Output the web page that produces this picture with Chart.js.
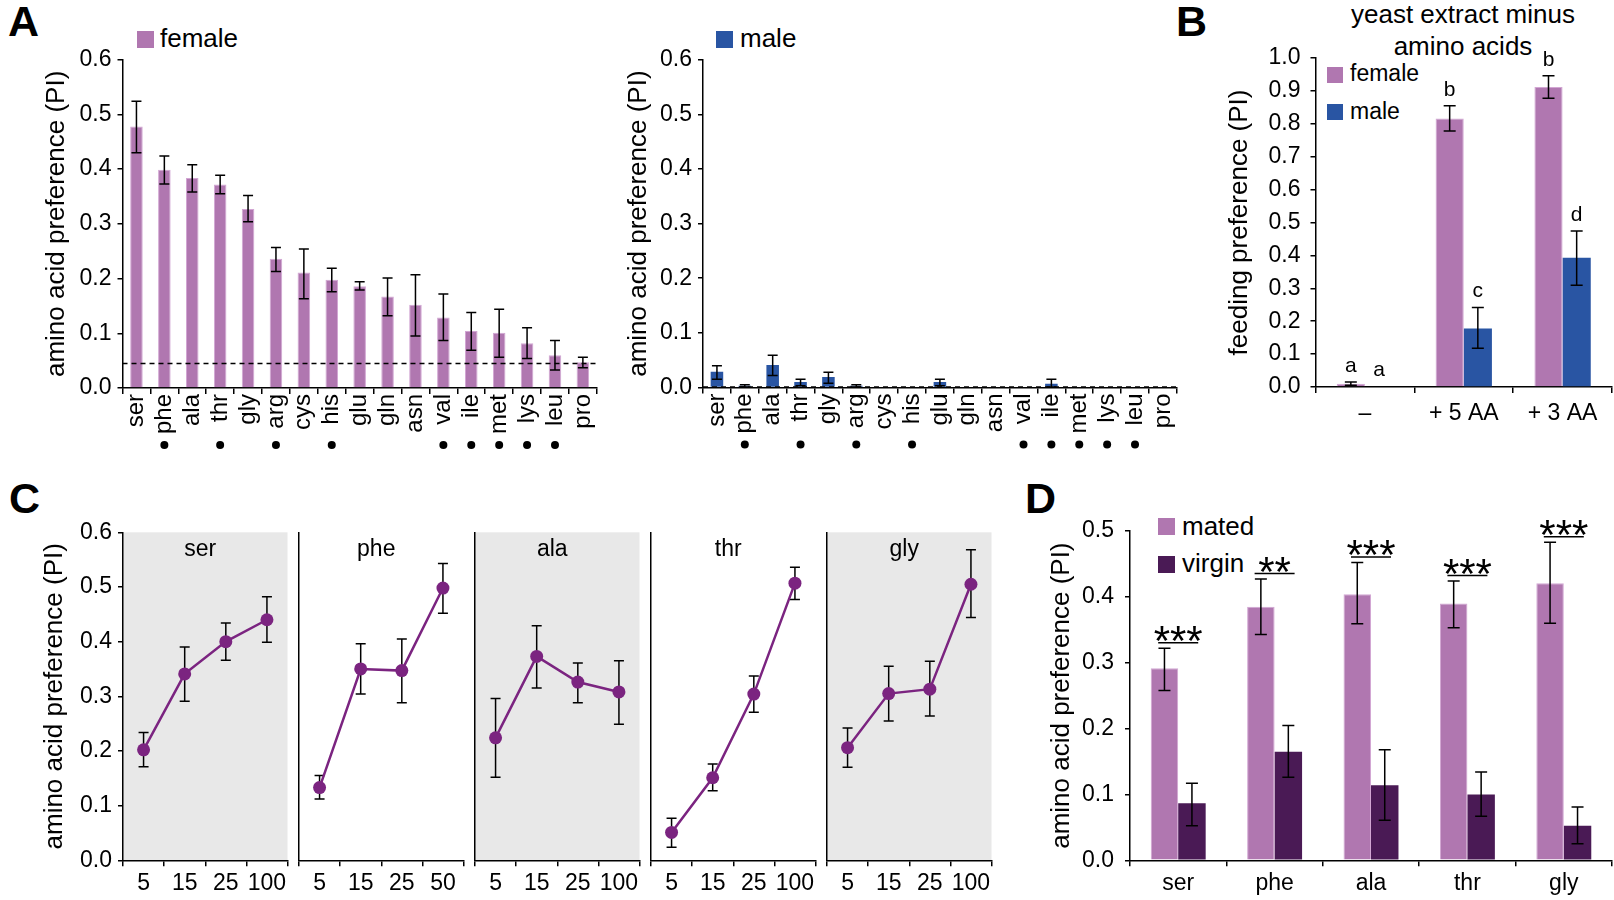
<!DOCTYPE html>
<html>
<head>
<meta charset="utf-8">
<script src="https://cdn.jsdelivr.net/npm/chart.js@4.4.1/dist/chart.umd.min.js"></script>
<style>
html,body{margin:0;padding:0;background:#fff;}
body{position:relative;width:1614px;height:900px;overflow:hidden;font-family:'Liberation Sans',Arial,sans-serif;color:#000;}
canvas{position:absolute;}
.t{position:absolute;white-space:nowrap;line-height:1;}
.sq{position:absolute;}
.pl{font-weight:bold;font-size:43px;}
</style>
</head>
<body>
<div class="t pl" style="left:8px;top:0px">A</div>
<div class="t pl" style="left:1176px;top:0px">B</div>
<div class="t pl" style="left:9px;top:477px">C</div>
<div class="t pl" style="left:1025px;top:477px">D</div>

<div class="sq" style="left:137px;top:31px;width:17px;height:17px;background:#b077b0"></div>
<div class="t" style="left:160px;top:25px;font-size:26px">female</div>
<div class="sq" style="left:716px;top:31px;width:17px;height:17px;background:#2955a3"></div>
<div class="t" style="left:740px;top:25px;font-size:26px">male</div>

<div class="t" style="left:1263px;width:400px;text-align:center;top:1px;font-size:26px">yeast extract minus</div>
<div class="t" style="left:1263px;width:400px;text-align:center;top:33px;font-size:26px">amino acids</div>
<div class="sq" style="left:1327px;top:67px;width:16px;height:16px;background:#b077b0"></div>
<div class="t" style="left:1350px;top:62px;font-size:23px">female</div>
<div class="sq" style="left:1327px;top:104px;width:16px;height:16px;background:#2955a3"></div>
<div class="t" style="left:1350px;top:100px;font-size:23px">male</div>

<div class="sq" style="left:1158px;top:518px;width:17px;height:17px;background:#b077b0"></div>
<div class="t" style="left:1182px;top:513px;font-size:26px">mated</div>
<div class="sq" style="left:1158px;top:556px;width:17px;height:17px;background:#4a1a55"></div>
<div class="t" style="left:1182px;top:550px;font-size:26px">virgin</div>

<script>
// ---------- Panel A data ----------
const aminoAcids = ['ser','phe','ala','thr','gly','arg','cys','his','glu','gln','asn','val','ile','met','lys','leu','pro'];
const femaleMean = [0.478,0.399,0.384,0.372,0.327,0.236,0.211,0.198,0.186,0.167,0.152,0.129,0.104,0.101,0.082,0.060,0.047];
const femaleHigh = [0.524,0.424,0.408,0.389,0.352,0.257,0.254,0.219,0.194,0.201,0.207,0.172,0.138,0.144,0.110,0.087,0.056];
const femaleLow  = [0.430,0.373,0.358,0.355,0.304,0.213,0.163,0.176,0.179,0.132,0.095,0.087,0.069,0.056,0.054,0.033,0.037];
const maleMean = [0.029,0.003,0.041,0.010,0.019,0.003,0,0,0.010,0,0,0,0.007,0,0,0,0];
const maleHigh = [0.040,0.005,0.059,0.015,0.028,0.005,0,0,0.015,0,0,0,0.015,0,0,0,0];
const maleLow  = [0.015,0.001,0.022,0.003,0.008,0.001,0,0,0.003,0,0,0,0.001,0,0,0,0];
const markedAcids = ['phe','thr','arg','his','val','ile','met','lys','leu'];
const femaleBaseline = 0.045;
const maleBaseline = 0.001;

// ---------- Panel B data ----------
const conditions = ['–','+ 5 AA','+ 3 AA'];
const yeastFemale = [0.010,0.816,0.912];
const yeastFemaleHigh = [0.015,0.855,0.946];
const yeastFemaleLow = [0.005,0.778,0.878];
const yeastMale = [0.002,0.178,0.393];
const yeastMaleHigh = [0.002,0.242,0.474];
const yeastMaleLow = [0.002,0.118,0.309];
const lettersFemale = ['a','b','b'];
const lettersMale = ['a','c','d'];

// ---------- Panel C data ----------
const doseAcids = ['ser','phe','ala','thr','gly'];
const doseLabels = [['5','15','25','100'],['5','15','25','50'],['5','15','25','100'],['5','15','25','100'],['5','15','25','100']];
const doseMean = [[0.202,0.341,0.400,0.440],[0.133,0.350,0.347,0.498],[0.224,0.373,0.326,0.308],[0.051,0.151,0.304,0.507],[0.206,0.305,0.313,0.505]];
const doseHigh = [[0.234,0.390,0.434,0.482],[0.155,0.396,0.405,0.543],[0.296,0.429,0.361,0.365],[0.077,0.176,0.337,0.536],[0.242,0.355,0.364,0.568]];
const doseLow  = [[0.171,0.291,0.366,0.399],[0.112,0.304,0.288,0.452],[0.152,0.315,0.288,0.249],[0.024,0.127,0.271,0.477],[0.170,0.255,0.264,0.444]];

// ---------- Panel D data ----------
const matingAcids = ['ser','phe','ala','thr','gly'];
const matedMean = [0.2915,0.385,0.404,0.390,0.4205];
const matedHigh = [0.322,0.427,0.452,0.424,0.483];
const matedLow  = [0.258,0.343,0.359,0.353,0.360];
const virginMean = [0.0865,0.165,0.114,0.100,0.0526];
const virginHigh = [0.117,0.2045,0.168,0.134,0.081];
const virginLow  = [0.0526,0.126,0.061,0.067,0.025];
const sigStars = ['***','**','***','***','***'];

// ---------- styles ----------
const PINK='#b077b0', PINK_EDGE='#d2a6d3', BLUE='#2955a3', DARK='#4a1a55', LINE='#7b2480', SHADE='#e8e8e8';
const FONT="'Liberation Sans', Arial, sans-serif";
Chart.defaults.font.family = FONT;
Chart.defaults.color = '#000';

function addCanvas(x,y,w,h){
  const c=document.createElement('canvas');
  c.width=w;c.height=h;
  c.style.left=x+'px';c.style.top=y+'px';c.style.width=w+'px';c.style.height=h+'px';
  document.body.appendChild(c);
  return c;
}
function frame(cr, a){
  return {
    padding:{top:a.t-cr.y, right:cr.x+cr.w-a.r, bottom:0, left:0},
    yW:a.l-cr.x,
    xH:cr.y+cr.h-a.b
  };
}
function yAxis(max, title, titlePad, width, tickPad){
  return {
    min:0, max:max,
    afterFit:s=>{s.width=width;},
    ticks:{stepSize:0.1, autoSkip:false, callback:v=>Number(v).toFixed(1), font:{size:23}, color:'#000', padding:tickPad},
    grid:{drawOnChartArea:false, drawTicks:true, tickLength:5, color:'#000', lineWidth:1.5},
    border:{display:true, color:'#000', width:1.5},
    title:{display:!!title, text:title||'', font:{size:26}, color:'#000', padding:{top:titlePad,bottom:0}}
  };
}
function plainYAxis(max, width){
  return {
    min:0, max:max,
    afterFit:s=>{s.width=width;},
    ticks:{display:false, stepSize:0.1},
    grid:{display:false},
    border:{display:true, color:'#000', width:1.5}
  };
}
function xAxis(height, fontSize, rot, pad){
  return {
    type:'category', offset:true,
    afterFit:s=>{s.height=height;},
    ticks:{autoSkip:false, font:{size:fontSize}, color:'#000', minRotation:rot, maxRotation:rot, padding:pad},
    grid:{offset:true, drawOnChartArea:false, drawTicks:true, tickLength:6, color:'#000', lineWidth:1.5},
    border:{display:true, color:'#000', width:1.5}
  };
}
function baseOpts(fr, scales){
  return {
    animation:false, responsive:false, devicePixelRatio:1,
    layout:{padding:fr.padding},
    plugins:{legend:{display:false}, tooltip:{enabled:false}},
    scales:scales
  };
}
function errPlugin(sets, cap, before){
  const hook = before ? 'beforeDatasetsDraw' : 'afterDatasetsDraw';
  const p = {id:'errbars'};
  p[hook] = function(chart){
    const ctx=chart.ctx, ys=chart.scales.y;
    ctx.save(); ctx.strokeStyle='#000'; ctx.lineWidth=1.5;
    sets.forEach(s=>{
      const meta=chart.getDatasetMeta(s.ds);
      meta.data.forEach((el,i)=>{
        const hi=s.hi[i], lo=s.lo[i];
        if(hi===lo) return;
        const x=el.x, yh=ys.getPixelForValue(hi), yl=ys.getPixelForValue(lo);
        ctx.beginPath();
        ctx.moveTo(x,yh);ctx.lineTo(x,yl);
        ctx.moveTo(x-cap,yh);ctx.lineTo(x+cap,yh);
        ctx.moveTo(x-cap,yl);ctx.lineTo(x+cap,yl);
        ctx.stroke();
      });
    });
    ctx.restore();
  };
  return p;
}
function baselinePlugin(value){
  return {id:'baseline', afterDatasetsDraw(chart){
    const ctx=chart.ctx, a=chart.chartArea, y=chart.scales.y.getPixelForValue(value);
    ctx.save(); ctx.strokeStyle='#000'; ctx.lineWidth=1.5; ctx.setLineDash([5,4]);
    ctx.beginPath(); ctx.moveTo(a.left,y); ctx.lineTo(a.right,y); ctx.stroke();
    ctx.restore();
  }};
}
function dotsPlugin(list, labels, offset){
  return {id:'dots', afterDraw(chart){
    const ctx=chart.ctx, xs=chart.scales.x, y=chart.chartArea.bottom+offset;
    ctx.save(); ctx.fillStyle='#000';
    list.forEach(name=>{
      const x=xs.getPixelForValue(labels.indexOf(name));
      ctx.beginPath(); ctx.arc(x,y,4,0,Math.PI*2); ctx.fill();
    });
    ctx.restore();
  }};
}
const pinkBar = {backgroundColor:PINK, borderColor:PINK_EDGE, borderWidth:{left:1,right:1,top:1,bottom:0}};

// ---------- Panel A female ----------
(function(){
  const cr={x:0,y:0,w:612,h:470};
  const fr=frame(cr,{l:122.5,t:59.7,r:601,b:388});
  new Chart(addCanvas(cr.x,cr.y,cr.w,cr.h),{
    type:'bar',
    data:{labels:aminoAcids, datasets:[Object.assign({data:femaleMean, barPercentage:0.45, categoryPercentage:1}, pinkBar)]},
    options:baseOpts(fr,{x:xAxis(fr.xH,24,90,0), y:yAxis(0.6,'amino acid preference (PI)',41.4,fr.yW,6)}),
    plugins:[baselinePlugin(femaleBaseline), errPlugin([{ds:0,hi:femaleHigh,lo:femaleLow}],5), dotsPlugin(markedAcids,aminoAcids,57)]
  });
})();

// ---------- Panel A male ----------
(function(){
  const cr={x:580,y:0,w:612,h:470};
  const fr=frame(cr,{l:703,t:59.7,r:1181,b:387.5});
  new Chart(addCanvas(cr.x,cr.y,cr.w,cr.h),{
    type:'bar',
    data:{labels:aminoAcids, datasets:[{data:maleMean, backgroundColor:BLUE, barPercentage:0.45, categoryPercentage:1}]},
    options:baseOpts(fr,{x:xAxis(fr.xH,24,90,0), y:yAxis(0.6,'amino acid preference (PI)',43,fr.yW,6)}),
    plugins:[baselinePlugin(maleBaseline), errPlugin([{ds:0,hi:maleHigh,lo:maleLow}],5), dotsPlugin(markedAcids,aminoAcids,57)]
  });
})();

// ---------- Panel B ----------
(function(){
  const cr={x:1180,y:0,w:434,h:440};
  const fr=frame(cr,{l:1315.5,t:58,r:1612,b:387});
  const letters={id:'letters', afterDatasetsDraw(chart){
    const ctx=chart.ctx, ys=chart.scales.y;
    ctx.save(); ctx.fillStyle='#000'; ctx.font='21px '+FONT; ctx.textAlign='center'; ctx.textBaseline='middle';
    [[lettersFemale,yeastFemaleHigh],[lettersMale,yeastMaleHigh]].forEach((pair,ds)=>{
      chart.getDatasetMeta(ds).data.forEach((el,i)=>{
        ctx.fillText(pair[0][i], el.x, ys.getPixelForValue(pair[1][i])-16);
      });
    });
    ctx.restore();
  }};
  new Chart(addCanvas(cr.x,cr.y,cr.w,cr.h),{
    type:'bar',
    data:{labels:conditions, datasets:[
      Object.assign({data:yeastFemale, barPercentage:1, categoryPercentage:0.57}, pinkBar),
      {data:yeastMale, backgroundColor:BLUE, barPercentage:1, categoryPercentage:0.57}
    ]},
    options:baseOpts(fr,{x:xAxis(fr.xH,23,0,7), y:yAxis(1.0,'feeding preference (PI)',44.4,fr.yW,10)}),
    plugins:[errPlugin([{ds:0,hi:yeastFemaleHigh,lo:yeastFemaleLow},{ds:1,hi:yeastMaleHigh,lo:yeastMaleLow}],6), letters]
  });
})();

// ---------- Panel C ----------
const doseStarts=[123,299,475,651,827];
const doseShaded=[true,false,true,false,true];
doseAcids.forEach((acid,k)=>{
  const start=doseStarts[k];
  const cr = k===0 ? {x:0,y:500,w:300,h:400} : {x:start-10,y:500,w:185,h:400};
  const fr=frame(cr,{l:start,t:532.3,r:start+164.5,b:860.3});
  const shade={id:'shade', beforeDraw(chart){
    if(!doseShaded[k]) return;
    const a=chart.chartArea, ctx=chart.ctx;
    ctx.save(); ctx.fillStyle=SHADE; ctx.fillRect(a.left,a.top,a.right-a.left,a.bottom-a.top); ctx.restore();
  }};
  const name={id:'pname', afterDraw(chart){
    const a=chart.chartArea, ctx=chart.ctx;
    ctx.save(); ctx.fillStyle='#000'; ctx.font='23px '+FONT; ctx.textAlign='center'; ctx.textBaseline='middle';
    ctx.fillText(acid,(a.left+a.right)/2-5,a.top+17); ctx.restore();
  }};
  new Chart(addCanvas(cr.x,cr.y,cr.w,cr.h),{
    type:'line',
    data:{labels:doseLabels[k], datasets:[{data:doseMean[k], borderColor:LINE, backgroundColor:LINE, borderWidth:2.5,
      pointRadius:6.5, pointBackgroundColor:LINE, pointBorderColor:LINE, pointBorderWidth:0, tension:0}]},
    options:baseOpts(fr,{x:xAxis(fr.xH,23,0,4),
      y: k===0 ? yAxis(0.6,'amino acid preference (PI)',39.4,fr.yW,6) : plainYAxis(0.6,fr.yW)}),
    plugins:[shade, errPlugin([{ds:0,hi:doseHigh[k],lo:doseLow[k]}],5,true), name]
  });
});

// ---------- Panel D ----------
(function(){
  const cr={x:1020,y:470,w:594,h:430};
  const fr=frame(cr,{l:1130,t:531,r:1612,b:860.3});
  const stars={id:'stars', afterDatasetsDraw(chart){
    const ctx=chart.ctx, xs=chart.scales.x, ys=chart.scales.y;
    ctx.save(); ctx.strokeStyle='#000'; ctx.fillStyle='#000'; ctx.lineWidth=1.5;
    ctx.font='42px '+FONT; ctx.textAlign='center'; ctx.textBaseline='alphabetic';
    sigStars.forEach((s,i)=>{
      const x=xs.getPixelForValue(i), y=ys.getPixelForValue(matedHigh[i])-5.5;
      ctx.beginPath(); ctx.moveTo(x-20,y); ctx.lineTo(x+20,y); ctx.stroke();
      ctx.fillText(s,x,y+12);
    });
    ctx.restore();
  }};
  new Chart(addCanvas(cr.x,cr.y,cr.w,cr.h),{
    type:'bar',
    data:{labels:matingAcids, datasets:[
      Object.assign({data:matedMean, barPercentage:1, categoryPercentage:0.57}, pinkBar),
      {data:virginMean, backgroundColor:DARK, barPercentage:1, categoryPercentage:0.57}
    ]},
    options:baseOpts(fr,{x:xAxis(fr.xH,23,0,4), y:yAxis(0.5,'amino acid preference (PI)',26,fr.yW,11)}),
    plugins:[errPlugin([{ds:0,hi:matedHigh,lo:matedLow},{ds:1,hi:virginHigh,lo:virginLow}],6), stars]
  });
})();
</script>
</body>
</html>
